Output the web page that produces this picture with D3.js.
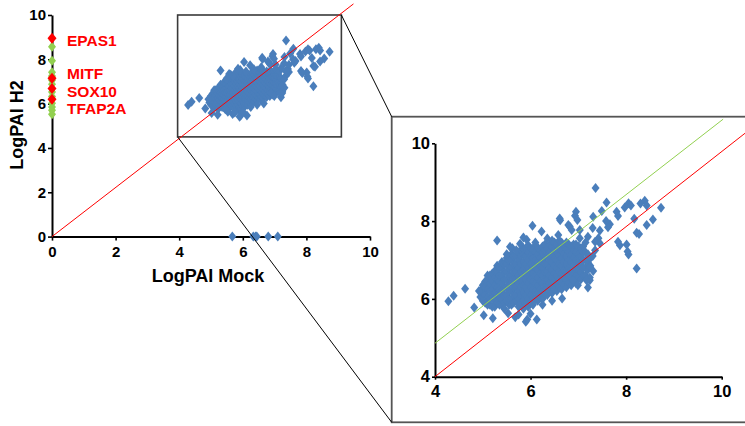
<!DOCTYPE html>
<html>
<head>
<meta charset="utf-8">
<script src="https://cdn.jsdelivr.net/npm/d3@7/dist/d3.min.js"></script>
<style>
  html, body { margin: 0; padding: 0; background: #fff; }
  svg { display: block; }
  text { font-family: Arial, "Liberation Sans", sans-serif; font-weight: bold; }
</style>
</head>
<body>
<svg id="chart" width="745" height="426"></svg>
<script>
// ---- data -------------------------------------------------------------
// Genes detected in both conditions: [LogPAI Mock, LogPAI H2]
const sharedGenes = [
  // dense core
  [4.95,6.05],[4.95,6.2],
  [5.0,5.95],[5.0,6.15],[5.0,6.35],
  [5.05,5.9],[5.05,6.1],[5.05,6.3],[5.05,6.45],
  [5.1,5.85],[5.1,6.05],[5.1,6.25],[5.1,6.45],[5.1,6.6],
  [5.15,5.85],[5.15,6.0],[5.15,6.2],[5.15,6.4],[5.15,6.6],
  [5.2,5.8],[5.2,6.05],[5.2,6.25],[5.2,6.45],[5.2,6.65],
  [5.25,5.8],[5.25,5.95],[5.25,6.15],[5.25,6.35],[5.25,6.55],[5.25,6.72],
  [5.3,5.9],[5.3,6.1],[5.3,6.3],[5.3,6.5],[5.3,6.7],[5.3,6.85],
  [5.35,5.85],[5.35,6.05],[5.35,6.25],[5.35,6.45],[5.35,6.6],[5.35,6.8],
  [5.4,5.85],[5.4,6.0],[5.4,6.2],[5.4,6.4],[5.4,6.6],[5.4,6.8],[5.4,6.95],
  [5.45,5.9],[5.45,6.1],[5.45,6.3],[5.45,6.5],[5.45,6.7],[5.45,6.9],
  [5.5,5.95],[5.5,6.1],[5.5,6.3],[5.5,6.5],[5.5,6.7],[5.5,6.9],[5.5,7.05],
  [5.55,5.85],[5.55,6.0],[5.55,6.2],[5.55,6.4],[5.55,6.6],[5.55,6.8],[5.55,7.0],
  [5.6,5.85],[5.6,6.0],[5.6,6.2],[5.6,6.4],[5.6,6.6],[5.6,6.8],[5.6,7.0],[5.6,7.15],
  [5.65,5.9],[5.65,6.1],[5.65,6.3],[5.65,6.5],[5.65,6.7],[5.65,6.9],[5.65,7.1],
  [5.7,5.95],[5.7,6.1],[5.7,6.3],[5.7,6.5],[5.7,6.7],[5.7,6.9],[5.7,7.1],
  [5.75,5.8],[5.75,6.0],[5.75,6.2],[5.75,6.4],[5.75,6.6],[5.75,6.8],[5.75,7.0],[5.75,7.2],
  [5.8,5.9],[5.8,6.1],[5.8,6.3],[5.8,6.5],[5.8,6.7],[5.8,6.9],[5.8,7.1],[5.8,7.25],
  [5.85,5.75],[5.85,5.95],[5.85,6.15],[5.85,6.35],[5.85,6.55],[5.85,6.75],[5.85,6.95],[5.85,7.15],[5.85,7.3],
  [5.9,5.85],[5.9,6.1],[5.9,6.3],[5.9,6.5],[5.9,6.7],[5.9,6.9],[5.9,7.1],[5.9,7.3],
  [5.95,5.8],[5.95,6.0],[5.95,6.2],[5.95,6.4],[5.95,6.6],[5.95,6.8],[5.95,7.0],[5.95,7.2],[5.95,7.38],
  [6.0,5.9],[6.0,6.1],[6.0,6.3],[6.0,6.5],[6.0,6.7],[6.0,6.9],[6.0,7.1],[6.0,7.3],
  [6.05,5.85],[6.05,6.05],[6.05,6.25],[6.05,6.45],[6.05,6.65],[6.05,6.85],[6.05,7.05],[6.05,7.25],
  [6.1,6.0],[6.1,6.2],[6.1,6.4],[6.1,6.6],[6.1,6.8],[6.1,7.0],[6.1,7.2],[6.1,7.38],
  [6.15,5.95],[6.15,6.15],[6.15,6.35],[6.15,6.55],[6.15,6.75],[6.15,6.95],[6.15,7.15],[6.15,7.32],
  [6.2,6.05],[6.2,6.25],[6.2,6.45],[6.2,6.65],[6.2,6.85],[6.2,7.05],[6.2,7.25],
  [6.25,6.0],[6.25,6.2],[6.25,6.4],[6.25,6.6],[6.25,6.8],[6.25,7.0],[6.25,7.2],[6.25,7.35],
  [6.3,6.1],[6.3,6.3],[6.3,6.5],[6.3,6.7],[6.3,6.9],[6.3,7.1],[6.3,7.25],[6.3,7.4],
  [6.35,6.1],[6.35,6.3],[6.35,6.5],[6.35,6.7],[6.35,6.9],[6.35,7.1],[6.35,7.3],
  [6.4,6.2],[6.4,6.4],[6.4,6.6],[6.4,6.8],[6.4,7.0],[6.4,7.2],[6.4,7.4],
  [6.45,6.15],[6.45,6.35],[6.45,6.55],[6.45,6.75],[6.45,6.95],[6.45,7.15],[6.45,7.35],[6.45,7.5],
  [6.5,6.25],[6.5,6.45],[6.5,6.65],[6.5,6.85],[6.5,7.05],[6.5,7.25],[6.5,7.45],
  [6.55,6.2],[6.55,6.4],[6.55,6.6],[6.55,6.8],[6.55,7.0],[6.55,7.2],[6.55,7.4],
  [6.6,6.3],[6.6,6.5],[6.6,6.7],[6.6,6.9],[6.6,7.1],[6.6,7.3],[6.6,7.5],
  [6.65,6.25],[6.65,6.45],[6.65,6.65],[6.65,6.85],[6.65,7.05],[6.65,7.25],[6.65,7.45],
  [6.7,6.35],[6.7,6.55],[6.7,6.75],[6.7,6.95],[6.7,7.15],[6.7,7.35],
  [6.75,6.3],[6.75,6.5],[6.75,6.7],[6.75,6.9],[6.75,7.1],[6.75,7.3],[6.75,7.45],
  [6.8,6.4],[6.8,6.6],[6.8,6.8],[6.8,7.0],[6.8,7.2],[6.8,7.4],
  [6.85,6.35],[6.85,6.55],[6.85,6.75],[6.85,6.95],[6.85,7.15],[6.85,7.35],
  [6.9,6.45],[6.9,6.65],[6.9,6.85],[6.9,7.05],[6.9,7.25],[6.9,7.4],
  [6.95,6.4],[6.95,6.6],[6.95,6.8],[6.95,7.0],[6.95,7.2],[6.95,7.4],
  [7.0,6.55],[7.0,6.75],[7.0,6.95],[7.0,7.15],[7.0,7.35],
  [7.05,6.5],[7.05,6.7],[7.05,6.9],[7.05,7.1],[7.05,7.3],
  [7.1,6.6],[7.1,6.8],[7.1,7.0],[7.1,7.2],[7.1,7.35],
  [7.15,6.6],[7.15,6.8],[7.15,7.0],[7.15,7.2],
  [7.2,6.75],[7.2,6.95],[7.2,7.15],
  [7.25,6.85],[7.25,7.05],
  [5.62,7.3],[5.78,7.42],[5.92,7.52],[6.1,7.45],[5.7,7.25],
  // surrounding genes
  [4.28,5.94],[4.39,6.08],[4.63,6.26],[4.82,5.78],[4.92,6.2],[5.02,5.58],
  [5.21,5.5],[5.3,7.5],[5.57,7.34],[5.53,5.63],[5.68,5.53],[5.9,5.41],
  [5.93,5.47],[6.13,5.47],[6.04,7.88],[6.23,7.73],[6.66,6.01],[6.61,8.07],
  [6.62,8.02],[6.95,8.24],[6.93,8.14],[6.98,8.03],[7.36,8.85],[7.59,8.48],
  [7.49,8.26],[7.2,6.29],[7.24,6.48],[7.24,6.55],[7.31,6.72],[7.24,6.82],
  [7.8,8.24],[7.83,8.13],[7.97,8.35],[8.05,8.46],[8.1,8.4],[8.3,8.45],
  [8.39,8.52],[8.43,8.4],[8.73,8.34],[8.56,8.04],[8.43,7.9],[8.17,8.06],
  [8.22,7.7],[8.27,7.67],[8.01,7.4],[7.87,7.38],[8.05,7.14],[8.03,7.22],
  [8.22,6.78],[7.83,7.47],[7.66,7.92],[7.62,7.84],[7.58,8.0],[7.45,7.76],
  [7.42,7.56],[7.45,7.43],[7.35,7.25],[7.3,7.1],[7.35,7.47],[7.31,8.11],
  [7.3,7.82],[6.82,7.86],[6.79,7.9],[6.86,7.77],[7.03,7.77],[6.58,7.64],
  [6.35,7.55],[5.85,7.58],[5.5,7.15],[5.45,5.75],[5.75,5.6],[6.0,5.62],
  [6.25,5.85],[6.45,5.95],[6.89,6.48],[6.99,6.35],[7.17,6.48],[7.03,7.56],
  [7.15,7.45],[7.2,7.6]
];

// Genes detected only in mock (LogPAI H2 = 0)
const mockOnlyX = [5.67, 6.33, 6.40, 6.44, 6.80, 7.10];

// Genes detected only in H2 (LogPAI Mock = 0)
const h2OnlyY = [8.57, 7.93, 7.42, 7.25, 7.05, 6.88, 6.52, 6.32, 6.02, 5.85, 5.7, 5.52];

// Highlighted H2-only genes
const markerNames = ["EPAS1", "MITF", "SOX10", "TFAP2A"];
const markerY = [8.95, 7.15, 6.68, 6.2];
const markerLabelY = [8.87, 7.37, 6.57, 5.78];

// Reference lines [x0, y0, x1, y1]
const mainDiagonal = [0, 0, 9.48, 10.5];
const insetDiagonal = [4, 4, 10.49, 10.26];
const insetFit = [4, 4.86, 10.03, 10.62];

// Region of the main plot enlarged in the inset
const zoomX = [3.95, 9.1];
const zoomY = [4.5, 10];

const mainTicks = [0, 2, 4, 6, 8, 10];
const insetTicks = [4, 6, 8, 10];

// ---- drawing ----------------------------------------------------------
const svg = d3.select("#chart");
const BLUE = "#4A7EBB", RED = "#FF0000", GREEN = "#92D050";
const diamond = (w, h) => `M0,${-h}L${w},0L0,${h}L${-w},0Z`;

const xMain = d3.scaleLinear([0, 10], [52, 370]);
const yMain = d3.scaleLinear([0, 10], [236.6, 15]);
const xIn = d3.scaleLinear([4, 10], [435, 721.7]);
const yIn = d3.scaleLinear([4, 10], [376.7, 143.3]);

function styleAxis(g, size) {
  g.select(".domain").attr("stroke", "#000").attr("stroke-width", 2);
  g.selectAll(".tick line").attr("stroke", "#000").attr("stroke-width", 1.6);
  g.selectAll(".tick text").attr("fill", "#000").style("font-size", size + "px");
}

// main plot axes
svg.append("g").attr("transform", `translate(0,${yMain(0)})`)
  .call(d3.axisBottom(xMain).tickValues(mainTicks).tickSize(4).tickSizeOuter(0).tickPadding(6).tickFormat(d3.format("d")))
  .call(g => styleAxis(g, 15));
svg.append("g").attr("transform", `translate(${xMain(0)},0)`)
  .call(d3.axisLeft(yMain).tickValues(mainTicks).tickSize(4).tickSizeOuter(0).tickPadding(2).tickFormat(d3.format("d")))
  .call(g => styleAxis(g, 15));

svg.append("text").attr("x", 208).attr("y", 282).attr("text-anchor", "middle")
  .style("font-size", "18px").text("LogPAI Mock");
svg.append("text").attr("transform", "translate(23,125) rotate(-90)").attr("text-anchor", "middle")
  .style("font-size", "18px").text("LogPAI H2");

// zoom frame on the main plot
svg.append("rect")
  .attr("x", xMain(zoomX[0])).attr("y", yMain(zoomY[1]))
  .attr("width", xMain(zoomX[1]) - xMain(zoomX[0]))
  .attr("height", yMain(zoomY[0]) - yMain(zoomY[1]))
  .attr("fill", "none").attr("stroke", "#3a3a3a").attr("stroke-width", 1.6);

// main plot points
svg.append("g").selectAll("path").data(sharedGenes).join("path")
  .attr("d", diamond(4, 5)).attr("fill", BLUE)
  .attr("transform", d => `translate(${xMain(d[0])},${yMain(d[1])})`);
svg.append("g").selectAll("path").data(mockOnlyX).join("path")
  .attr("d", diamond(4, 5)).attr("fill", BLUE)
  .attr("transform", d => `translate(${xMain(d)},${yMain(0)})`);
svg.append("g").selectAll("path").data(h2OnlyY).join("path")
  .attr("d", diamond(4, 5)).attr("fill", GREEN)
  .attr("transform", d => `translate(${xMain(0)},${yMain(d)})`);
svg.append("g").selectAll("path").data(markerY).join("path")
  .attr("d", diamond(4.5, 5.5)).attr("fill", RED)
  .attr("transform", d => `translate(${xMain(0)},${yMain(d)})`);
svg.append("g").selectAll("text").data(markerNames).join("text")
  .attr("x", 67).attr("y", (d, i) => yMain(markerLabelY[i])).attr("dy", "0.36em")
  .attr("fill", RED).style("font-size", "15.5px").text(d => d);

svg.append("line")
  .attr("x1", xMain(mainDiagonal[0])).attr("y1", yMain(mainDiagonal[1]))
  .attr("x2", xMain(mainDiagonal[2])).attr("y2", yMain(mainDiagonal[3]))
  .attr("stroke", RED).attr("stroke-width", 1);

// inset frame
const frame = { x: 391.7, y: 116.7, w: 420, h: 305.6 };
svg.append("rect").attr("x", frame.x).attr("y", frame.y).attr("width", frame.w).attr("height", frame.h)
  .attr("fill", "#fff").attr("stroke", "#555").attr("stroke-width", 1.8);

// inset axes
svg.append("g").attr("transform", `translate(0,${yIn(4)})`)
  .call(d3.axisBottom(xIn).tickValues(insetTicks).tickSize(3).tickSizeOuter(0).tickPadding(6).tickFormat(d3.format("d")))
  .call(g => styleAxis(g, 16.5));
svg.append("g").attr("transform", `translate(${xIn(4)},0)`)
  .call(d3.axisLeft(yIn).tickValues(insetTicks).tickSize(3).tickSizeOuter(0).tickPadding(2).tickFormat(d3.format("d")))
  .call(g => styleAxis(g, 16.5));

// inset points
svg.append("g").selectAll("path").data(sharedGenes).join("path")
  .attr("d", diamond(4, 5)).attr("fill", BLUE)
  .attr("transform", d => `translate(${xIn(d[0])},${yIn(d[1])})`);

svg.append("line")
  .attr("x1", xIn(insetFit[0])).attr("y1", yIn(insetFit[1]))
  .attr("x2", xIn(insetFit[2])).attr("y2", yIn(insetFit[3]))
  .attr("stroke", GREEN).attr("stroke-width", 1);
svg.append("line")
  .attr("x1", xIn(insetDiagonal[0])).attr("y1", yIn(insetDiagonal[1]))
  .attr("x2", xIn(insetDiagonal[2])).attr("y2", yIn(insetDiagonal[3]))
  .attr("stroke", RED).attr("stroke-width", 1);

// callout connectors from the zoom frame to the inset
svg.append("line")
  .attr("x1", xMain(zoomX[1])).attr("y1", yMain(zoomY[1]))
  .attr("x2", frame.x).attr("y2", frame.y)
  .attr("stroke", "#000").attr("stroke-width", 1);
svg.append("line")
  .attr("x1", xMain(zoomX[0])).attr("y1", yMain(zoomY[0]))
  .attr("x2", frame.x).attr("y2", frame.y + frame.h)
  .attr("stroke", "#000").attr("stroke-width", 1);
</script>
</body>
</html>
